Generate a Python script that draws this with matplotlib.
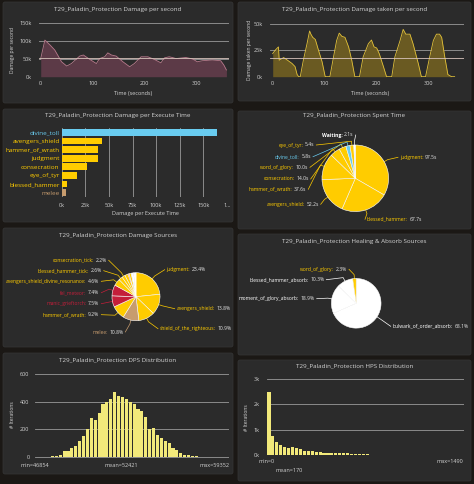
import matplotlib
matplotlib.use("Agg")
import matplotlib.pyplot as plt
from matplotlib.patches import FancyBboxPatch
import numpy as np

plt.rcParams['font.family'] = ['Open Sans', 'DejaVu Sans']

W, H = 474, 484
BG = '#1b1815'
PANEL = '#2b2b2b'
GRID = '#9a9a9a'
TXT = '#d2d2d2'
VAL = '#e6e6e6'
YEL = '#ffcc00'
BLUE = '#69ccf0'
TAN = '#c79c6e'
RED = '#c41e3a'
WHITE = '#ffffff'
HIST = '#f2e97a'

# ---- data ----
dps_t = [0, 8, 18, 27, 40, 50, 59, 75, 82, 94, 107, 113, 123, 129, 136, 145, 158, 171,
         180, 193, 206, 218, 231, 238, 247, 253, 260, 279, 292, 301, 311, 330, 346, 352, 357]
dps_k = [51, 103, 89, 75, 42, 30, 37, 58, 61, 49, 37, 51, 56, 67, 61, 58, 42, 28,
         37, 56, 56, 49, 39, 53, 56, 54, 51, 54, 50, 42, 45, 47, 45, 33, 19]
dps_mean = 52421

dtps_t = [0, 5, 11, 12.5, 18, 21, 27, 37, 43, 47, 50, 53, 59, 66, 71, 73.5, 77, 82, 88, 95,
          101, 110, 117, 123, 128, 133, 139, 146, 152, 158, 167, 174, 184, 190, 195, 200,
          205, 213, 219, 229, 235, 245, 251, 256, 264, 270, 280, 286, 294, 302, 309, 315,
          321, 325, 331, 337, 344, 350]
dtps_k = [21.7, 25, 28, 15.5, 17, 18, 16, 12.5, 9.5, 2, 0, 0, 15.6, 31, 43, 40, 37, 35, 25, 14,
          0, 0, 18.6, 34, 41, 38, 37, 28, 15.6, 0, 0, 18.6, 31, 34.5, 28, 27,
          21.6, 9.5, 0, 0, 18.6, 34, 44.5, 40, 40, 31, 12.5, 0, 0, 18.6, 34, 40,
          40, 37, 18.6, 2, 0, 0]
dtps_mean = 18000

dpet_names = ['divine_toll', 'avengers_shield', 'hammer_of_wrath', 'judgment',
              'consecration', 'eye_of_tyr', 'blessed_hammer', 'melee']
dpet_vals = [164000, 42400, 38800, 38100, 26500, 16600, 6000, 4600]
dpet_cols = [BLUE, YEL, YEL, YEL, YEL, YEL, YEL, TAN]

spent_names = ['judgment', 'blessed_hammer', 'avengers_shield', 'hammer_of_wrath',
               'consecration', 'word_of_glory', 'divine_toll', 'eye_of_tyr', 'Waiting']
spent_secs = [97.5, 67.7, 52.2, 37.6, 14.0, 10.0, 5.8, 5.4, 2.1]
spent_cols = [YEL, YEL, YEL, YEL, YEL, YEL, BLUE, YEL, WHITE]

src_names = ['judgment', 'avengers_shield', 'shield_of_the_righteous', 'melee',
             'hammer_of_wrath', 'manic_grieftorch', 'fel_meteor',
             'avengers_shield_divine_resonance', 'blessed_hammer_tick', 'consecration_tick']
src_pct = [23.4, 13.8, 10.9, 10.8, 9.2, 7.5, 7.4, 4.6, 2.6, 2.2]
src_cols = [YEL, YEL, YEL, TAN, YEL, RED, RED, YEL, YEL, YEL]
src_minor_pct = [2.2, 0.7, 1.5, 1.6, 1.6]
src_minor_cols = [YEL, RED, YEL, WHITE, WHITE]

heal_names = ['bulwark_of_order_absorb', 'moment_of_glory_absorb',
              'blessed_hammer_absorb', 'word_of_glory']
heal_pct = [68.1, 18.9, 10.3, 2.3]
heal_cols = [WHITE, WHITE, WHITE, YEL]

dps_counts = [0, 1, 2, 3, 7, 10, 20, 43, 45, 70, 80, 120, 150, 200, 280, 265, 320, 380, 395, 420,
              465, 440, 430, 420, 400, 380, 345, 335, 290, 200, 210, 160, 140, 120, 100, 70, 50,
              35, 20, 15, 12, 8, 3, 2, 1, 1, 0, 1, 0, 1]
dps_min, dps_max = 46854, 59352
hps_counts = [2500, 760, 510, 405, 300, 260, 310, 290, 235, 170, 160, 145, 120, 105, 95, 90, 80,
              80, 70, 65, 75, 55, 50, 40, 35, 25, 20, 15, 12, 10, 8, 6, 5, 4, 3, 3, 2, 2, 1, 1,
              1, 1, 1, 0, 0, 0, 0, 0, 0, 1]
hps_min, hps_mean, hps_max = 0, 170, 1490

# ---- figure / panels ----
fig = plt.figure(figsize=(W / 100, H / 100), dpi=100)
fig.patch.set_facecolor(BG)
canvas = fig.add_axes([0, 0, 1, 1])
canvas.set_xlim(0, W)
canvas.set_ylim(H, 0)
canvas.axis('off')

panels = [(3, 2, 233, 103), (238, 2, 471, 101), (3, 109, 233, 222), (238, 111, 471, 229),
          (3, 228, 233, 347), (238, 234, 471, 355), (3, 353, 233, 474), (238, 360, 471, 481)]
titles = ['Damage per second', 'Damage taken per second', 'Damage per Execute Time',
          'Spent Time', 'Damage Sources', 'Healing & Absorb Sources', 'DPS Distribution',
          'HPS Distribution']
title_y = [10, 10, 116, 116, 235, 241, 360, 366]
for (x0, y0, x1, y1), t, ty in zip(panels, titles, title_y):
    canvas.add_patch(FancyBboxPatch((x0, y0), x1 - x0, y1 - y0,
                                    boxstyle='round,pad=0,rounding_size=2',
                                    fc=PANEL, ec='#363636', lw=0.5))
    canvas.text((x0 + x1) / 2, ty, 'T29_Paladin_Protection ' + t, color=TXT,
                fontsize=4.5, ha='center', va='center')


def box(x0, y0, x1, y1):
    ax = fig.add_axes([x0 / W, 1 - y1 / H, (x1 - x0) / W, (y1 - y0) / H])
    ax.set_facecolor('none')
    for s in ax.spines.values():
        s.set_visible(False)
    ax.tick_params(colors=TXT, labelsize=4, length=0)
    ax.set_axisbelow(True)
    return ax


def label(x, y, text, size=4, **kw):
    canvas.text(x, y, text, color=TXT, fontsize=size, ha='center', va='center', **kw)


# ---- panel 1: DPS timeline ----
ax = box(39, 23, 229, 77)
ax.fill_between(dps_t, [v * 1000 for v in dps_k], color='#5c3a47', lw=0)
ax.plot(dps_t, [v * 1000 for v in dps_k], color='#b87a8c', lw=0.6)
ax.axhline(dps_mean, color='#d8c4bc', lw=0.6)
ax.set_xlim(-3.3, 362)
ax.set_ylim(-800, 151000)
ax.set_yticks([0, 50000, 100000, 150000], ['0k', '50k', '100k', '150k'])
ax.set_xticks([0, 100, 200, 300])
ax.grid(axis='y', color=GRID, lw=0.6)
ax.tick_params(axis='y', pad=5)
ax.tick_params(axis='x', pad=3)
label(133, 94, 'Time (seconds)')
label(13, 50, 'Damage per second', size=3.6, rotation=90)

# ---- panel 2: DTPS timeline ----
ax = box(270, 23, 464, 77)
ax.fill_between(dtps_t, [v * 1000 for v in dtps_k], color='#6a5a22', lw=0)
ax.plot(dtps_t, [v * 1000 for v in dtps_k], color='#e3c23a', lw=0.6)
ax.axhline(dtps_mean, color='#d8c4bc', lw=0.6)
ax.set_xlim(-5.2, 368)
ax.set_ylim(-300, 50500)
ax.set_yticks([0, 25000, 50000], ['0k', '25k', '50k'])
ax.set_xticks([0, 100, 200, 300])
ax.grid(axis='y', color=GRID, lw=0.6)
ax.tick_params(axis='y', pad=5)
ax.tick_params(axis='x', pad=3)
label(370, 94, 'Time (seconds)')
label(250, 50, 'Damage taken per second', size=3.6, rotation=90)

# ---- panel 3: damage per execute time ----
ax = box(61.7, 128, 227, 197)
ypos = np.arange(len(dpet_names))
ax.barh(ypos, dpet_vals, height=0.78, color=dpet_cols, lw=0)
ax.set_xlim(0, 175000)
ax.set_ylim(len(dpet_names) - 0.5, -0.5)
ax.set_yticks(ypos, dpet_names, fontsize=4.6)
for tl, c in zip(ax.get_yticklabels(), dpet_cols):
    tl.set_color(c)
ax.set_xticks(np.arange(0, 175001, 25000),
              ['0k', '25k', '50k', '75k', '100k', '125k', '150k', '1…'])
ax.grid(axis='x', color=GRID, lw=0.6)
ax.tick_params(axis='y', pad=1.5)
ax.tick_params(axis='x', pad=4)
label(145.7, 214, 'Damage per Execute Time')

# ---- pies ----
renderer = fig.canvas.get_renderer()
FS = 3.6


def pie(vals, cols, cx, cy, r):
    pax = fig.add_axes([0, 0, 1, 1])
    wedges, _ = pax.pie(vals, colors=cols, startangle=90, counterclock=False,
                        center=(cx, H - cy), radius=r,
                        wedgeprops=dict(edgecolor=WHITE, linewidth=0.4))
    pax.set_xlim(0, W)
    pax.set_ylim(0, H)
    pax.axis('off')
    return wedges


def pie_label(w, cx, cy, r, x, y, name, value, color, side, bold=False):
    a = np.deg2rad((w.theta1 + w.theta2) / 2)
    ex, ey = cx + r * np.cos(a), cy - r * np.sin(a)
    mx, my = cx + (r + 4) * np.cos(a), cy - (r + 4) * np.sin(a)
    endx = x - 2 if side == 'right' else x + 2
    canvas.plot([ex, mx, endx], [ey, my, y], color=color, lw=0.5)
    weight = 'bold' if bold else 'normal'
    if side == 'right':
        t = canvas.text(x, y, name + ':', color=color, fontsize=FS, ha='left', va='center',
                        fontweight=weight)
        wd = t.get_window_extent(renderer).width
        canvas.text(x + wd + 1.5, y, value, color=VAL, fontsize=FS, ha='left', va='center')
    else:
        t = canvas.text(x, y, value, color=VAL, fontsize=FS, ha='right', va='center')
        wd = t.get_window_extent(renderer).width
        canvas.text(x - wd - 1.5, y, name + ':', color=color, fontsize=FS, ha='right',
                    va='center', fontweight=weight)


# panel 4: spent time
cx, cy, r = 355.3, 178.3, 33.3
wedges = pie(spent_secs, spent_cols, cx, cy, r)
spent_pos = [(400, 157.3, 'right'), (367, 219.3, 'right'), (318.7, 204.3, 'left'),
             (306.3, 189.3, 'left'), (308.7, 179, 'left'), (308, 167.3, 'left'),
             (311, 156.7, 'left'), (314.3, 145, 'left'), (353.7, 135, 'left')]
for w, n, v, c, (x, y, s) in zip(wedges, spent_names, spent_secs, spent_cols, spent_pos):
    pie_label(w, cx, cy, r, x, y, n, f'{v:.1f}s', c, s, bold=(n == 'Waiting'))

# panel 5: damage sources
cx, cy, r = 136, 296.7, 24
wedges = pie(src_pct + src_minor_pct, src_cols + src_minor_cols, cx, cy, r)
src_pos = [(166.7, 269.7, 'right'), (176.7, 308.7, 'right'), (160, 328.7, 'right'),
           (123.3, 332, 'left'), (99.3, 314.7, 'left'), (99.3, 303.7, 'left'),
           (99.3, 292.7, 'left'), (99.3, 281.3, 'left'), (101.7, 270.7, 'left'),
           (106.7, 260.3, 'left')]
for w, n, v, c, (x, y, s) in zip(wedges, src_names, src_pct, src_cols, src_pos):
    pie_label(w, cx, cy, r, x, y, n, f'{v:.1f}%', c, s)

# panel 6: healing & absorb
cx, cy, r = 356.2, 303.3, 24.8
wedges = pie(heal_pct, heal_cols, cx, cy, r)
heal_pos = [(392.7, 326.3, 'right'), (314.7, 298.7, 'left'), (324.3, 279.7, 'left'),
            (347, 269.3, 'left')]
for w, n, v, c, (x, y, s) in zip(wedges, heal_names, heal_pct, heal_cols, heal_pos):
    pie_label(w, cx, cy, r, x, y, n, f'{v:.1f}%', c, s)

# ---- panel 7: DPS distribution ----
ax = box(35, 373, 229.3, 457.7)
bins = np.arange(len(dps_counts)) + 0.5
ax.bar(bins, dps_counts, width=0.8, color=HIST, lw=0)
ax.set_xlim(0, len(dps_counts))
ax.set_ylim(-2, 604)
ax.set_yticks([0, 200, 400, 600])
ax.set_xticks([])
ax.grid(axis='y', color=GRID, lw=0.6)
ax.tick_params(axis='y', pad=4)
kw = dict(transform=ax.transAxes, color=TXT, fontsize=4, va='center')
ax.text(0, -0.09, f'min={dps_min}', ha='center', **kw)
ax.text((dps_mean - dps_min) / (dps_max - dps_min), -0.09, f'mean={dps_mean}',
        ha='center', **kw)
ax.text(1, -0.09, f'max={dps_max}', ha='right', **kw)
label(12.7, 415, '# Iterations', size=3.6, rotation=90)

# ---- panel 8: HPS distribution ----
ax = box(267, 378.7, 463.7, 455.3)
bins = np.arange(len(hps_counts)) + 0.5
ax.bar(bins, hps_counts, width=0.8, color=HIST, lw=0)
ax.set_xlim(0, len(hps_counts))
ax.set_ylim(-10, 3010)
ax.set_yticks([0, 1000, 2000, 3000], ['0k', '1k', '2k', '3k'])
ax.set_xticks([])
ax.grid(axis='y', color=GRID, lw=0.6)
ax.tick_params(axis='y', pad=5)
kw = dict(transform=ax.transAxes, color=TXT, fontsize=4, va='center')
ax.text(0, -0.08, f'min={hps_min}', ha='center', **kw)
ax.text(hps_mean / hps_max, -0.2, f'mean={hps_mean}', ha='center', **kw)
ax.text(1, -0.08, f'max={hps_max}', ha='right', **kw)
label(247, 418, '# Iterations', size=3.6, rotation=90)

fig.savefig('out.png', dpi=100, facecolor=BG)
